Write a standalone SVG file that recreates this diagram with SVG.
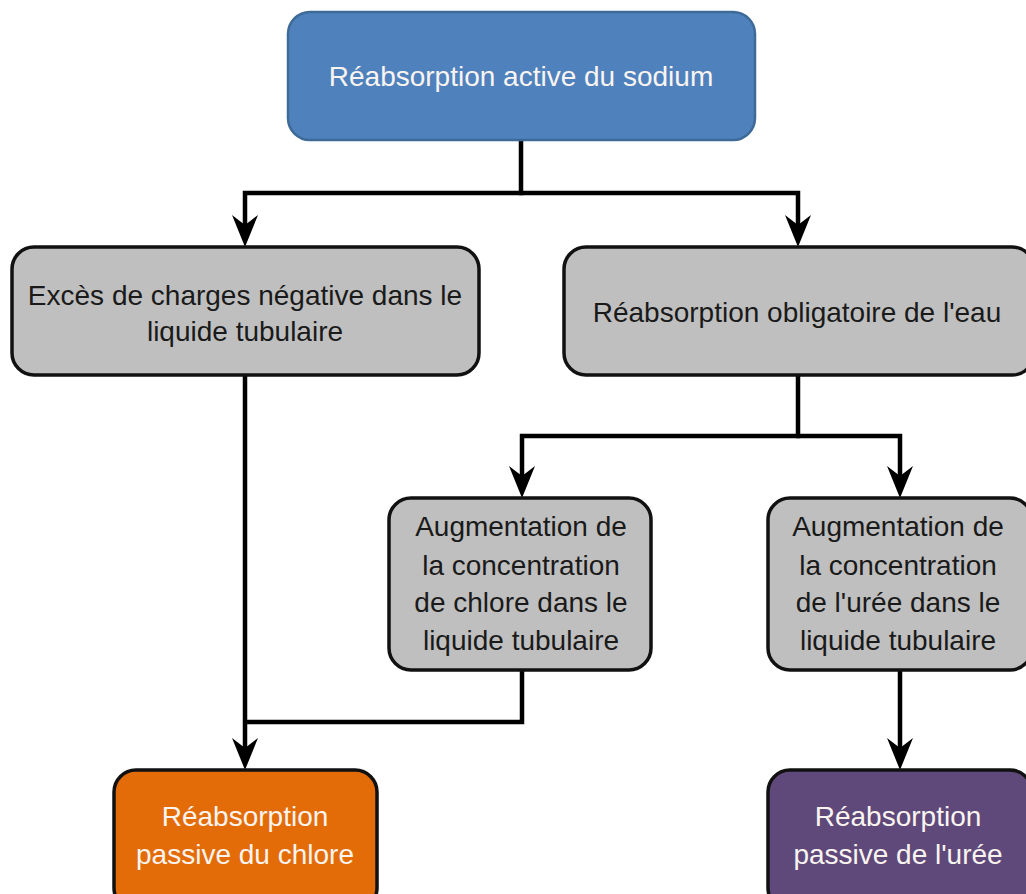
<svg xmlns="http://www.w3.org/2000/svg" width="1026" height="894" viewBox="0 0 1026 894">
<style>
.box{stroke:#111;stroke-width:3.5}
.gray{fill:#BFBFBF}
.blue{fill:#4F81BD;stroke:#3E6A98;stroke-width:2.5}
.orange{fill:#E36C09}
.purple{fill:#5F497A}
text{font-family:"Liberation Sans",Arial,sans-serif;font-size:28px;text-anchor:middle}
.dark{fill:#1a1a1a}
.light{fill:#FAF4F0}
.conn path{fill:none;stroke:#000;stroke-width:4.5;stroke-linejoin:miter;stroke-linecap:butt}
</style>
<defs>
<marker id="arr" markerUnits="userSpaceOnUse" markerWidth="32" markerHeight="28" viewBox="0 0 32 28" refX="22" refY="14" orient="auto" overflow="visible">
<path d="M0,1 L32,14 L0,27 L10,14 Z" fill="#000"/>
</marker>
</defs>
<rect width="1026" height="894" fill="#fff"/>
<g id="connectors" class="conn">
<path d="M521,140 V193 H245 V237" marker-end="url(#arr)"/>
<path d="M519,193 H798 V237" marker-end="url(#arr)"/>
<path d="M245,375 V760" marker-end="url(#arr)"/>
<path d="M798,375 V436 H522 V488" marker-end="url(#arr)"/>
<path d="M796,436 H900 V488" marker-end="url(#arr)"/>
<path d="M522,670 V722 H243"/>
<path d="M900,670 V760" marker-end="url(#arr)"/>
</g>
<g id="n-sodium">
<rect class="blue" x="288" y="12" width="467" height="128" rx="22"/>
<text class="light" x="521" y="86">Réabsorption active du sodium</text>
</g>
<g id="n-charges">
<rect class="box gray" x="12" y="247" width="467" height="128" rx="22"/>
<text class="dark" x="245" y="305">Excès de charges négative dans le</text>
<text class="dark" x="245" y="341">liquide tubulaire</text>
</g>
<g id="n-eau">
<rect class="box gray" x="564" y="247" width="470" height="128" rx="22"/>
<text class="dark" x="797" y="322">Réabsorption obligatoire de l'eau</text>
</g>
<g id="n-chlore-conc">
<rect class="box gray" x="389" y="498" width="262" height="172" rx="22"/>
<text class="dark" x="521" y="536">Augmentation de</text>
<text class="dark" x="521" y="575">la concentration</text>
<text class="dark" x="521" y="612">de chlore dans le</text>
<text class="dark" x="521" y="650">liquide tubulaire</text>
</g>
<g id="n-uree-conc">
<rect class="box gray" x="768" y="498" width="264" height="172" rx="22"/>
<text class="dark" x="898" y="536">Augmentation de</text>
<text class="dark" x="898" y="575">la concentration</text>
<text class="dark" x="898" y="612">de l'urée dans le</text>
<text class="dark" x="898" y="650">liquide tubulaire</text>
</g>
<g id="n-chlore-passive">
<rect class="box orange" x="114" y="770" width="263" height="140" rx="22"/>
<text class="light" x="245" y="826">Réabsorption</text>
<text class="light" x="245" y="864">passive du chlore</text>
</g>
<g id="n-uree-passive">
<rect class="box purple" x="768" y="770" width="264" height="140" rx="22"/>
<text class="light" x="898" y="826">Réabsorption</text>
<text class="light" x="898" y="864">passive de l'urée</text>
</g>
</svg>
